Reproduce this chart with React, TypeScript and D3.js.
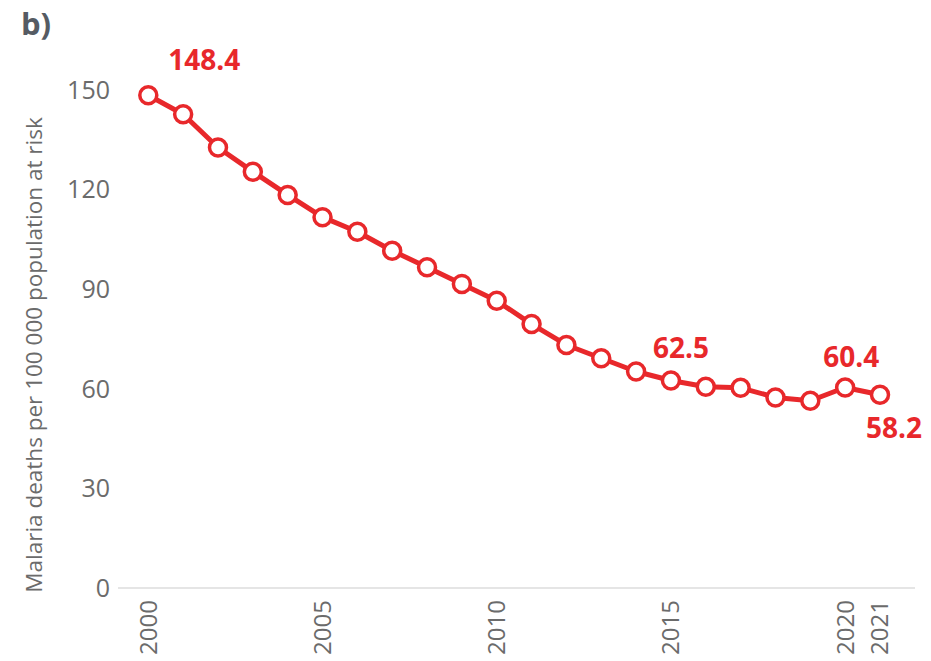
import * as d3 from "d3";
import { useRef, useEffect } from "react";

// Malaria deaths per 100 000 population at risk, 2000-2021
const years = [2000, 2001, 2002, 2003, 2004, 2005, 2006, 2007, 2008, 2009, 2010,
    2011, 2012, 2013, 2014, 2015, 2016, 2017, 2018, 2019, 2020, 2021];
const deathRate = [148.4, 142.7, 132.7, 125.4, 118.4, 111.7, 107.3, 101.6, 96.6, 91.6, 86.5,
    79.5, 73.2, 69.2, 65.2, 62.5, 60.6, 60.3, 57.4, 56.4, 60.4, 58.2];
const yTicks = [0, 30, 60, 90, 120, 150];
const xTicks = [2000, 2005, 2010, 2015, 2020, 2021];
// years whose value gets a label, and where it sits relative to the point
const labelled = [
    { year: 2000, dx: 56, dy: -25 },
    { year: 2015, dx: 10, dy: -23 },
    { year: 2020, dx: 6, dy: -20 },
    { year: 2021, dx: 14, dy: 43 },
];

export default function App() {
    const ref = useRef<SVGSVGElement>(null);

    const width = 931;
    const height = 661;
    const marginLeft = 118;
    const axisRight = 915;
    const red = "#e8282b";
    const grey = "#6b6b6b";
    const font = "'Open Sans', 'Noto Sans', sans-serif";

    useEffect(() => {
        const svg = d3.select(ref.current);
        svg.selectAll("*").remove();

        const data = years.map((year, i) => ({ year, value: deathRate[i] }));

        const x = d3.scaleLinear()
            .domain([2000, 2021])
            .range([148.3, 880]);

        const y = d3.scaleLinear()
            .domain([0, 150])
            .range([588, 90]);

        svg.append("text")
            .attr("x", 21)
            .attr("y", 35)
            .attr("font-family", font)
            .attr("font-size", 31)
            .attr("font-weight", "bold")
            .attr("fill", "#555b63")
            .text("b)");

        // baseline
        svg.append("line")
            .attr("x1", marginLeft)
            .attr("x2", axisRight)
            .attr("y1", y(0))
            .attr("y2", y(0))
            .attr("stroke", "#dcdcdc")
            .attr("stroke-width", 1.5);

        // y tick labels
        svg.append("g")
            .selectAll()
            .data(yTicks)
            .join("text")
                .attr("x", 110)
                .attr("y", (d) => y(d))
                .attr("dy", "0.35em")
                .attr("text-anchor", "end")
                .attr("font-family", font)
                .attr("font-size", 25)
                .attr("fill", grey)
                .text((d) => d);

        // x tick labels, rotated
        svg.append("g")
            .selectAll()
            .data(xTicks)
            .join("text")
                .attr("transform", (d) => `translate(${x(d)},${600}) rotate(-90)`)
                .attr("dy", "0.35em")
                .attr("text-anchor", "end")
                .attr("font-family", font)
                .attr("font-size", 24)
                .attr("fill", grey)
                .text((d) => d);

        svg.append("text")
            .attr("transform", `translate(34,${355}) rotate(-90)`)
            .attr("text-anchor", "middle")
            .attr("dy", "0.35em")
            .attr("font-family", font)
            .attr("font-size", 22.5)
            .attr("fill", grey)
            .text("Malaria deaths per 100 000 population at risk");

        const line = d3.line<{ year: number; value: number }>()
            .x((d) => x(d.year))
            .y((d) => y(d.value));

        svg.append("path")
            .datum(data)
            .attr("fill", "none")
            .attr("stroke", red)
            .attr("stroke-width", 5)
            .attr("stroke-linejoin", "round")
            .attr("d", line);

        svg.append("g")
            .selectAll()
            .data(data)
            .join("circle")
                .attr("cx", (d) => x(d.year))
                .attr("cy", (d) => y(d.value))
                .attr("r", 8.5)
                .attr("fill", "white")
                .attr("stroke", red)
                .attr("stroke-width", 3.5);

        svg.append("g")
            .selectAll()
            .data(labelled)
            .join("text")
                .attr("x", (d) => x(d.year) + d.dx)
                .attr("y", (d) => y(deathRate[years.indexOf(d.year)]) + d.dy)
                .attr("text-anchor", "middle")
                .attr("font-family", font)
                .attr("font-size", 28)
                .attr("font-weight", "bold")
                .attr("fill", red)
                .text((d) => deathRate[years.indexOf(d.year)].toFixed(1));
    }, []);

    return (
        <svg ref={ref} width={width} height={height}
            style={{ position: "absolute", left: 0, top: 0, background: "white" }} />
    );
}
